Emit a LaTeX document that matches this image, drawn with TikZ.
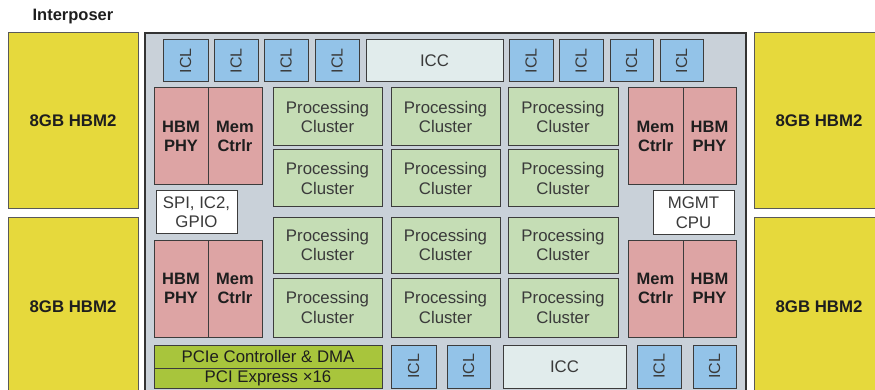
\documentclass[tikz,border=0pt]{standalone}
\usepackage{fontspec}
\setmainfont{Liberation Sans}
\definecolor{hbmY}{HTML}{E6D93C}
\definecolor{dieG}{HTML}{C9D1D9}
\definecolor{iclB}{HTML}{93C3E8}
\definecolor{iccW}{HTML}{E1ECEC}
\definecolor{memP}{HTML}{DDA4A4}
\definecolor{pcG}{HTML}{C5DDB5}
\definecolor{pcieG}{HTML}{A8C53C}
\definecolor{txtD}{HTML}{3A3A3A}
\definecolor{txtB}{HTML}{1E1E1E}
\definecolor{edgeD}{HTML}{3C3C3C}
\newcommand\blk[7]{\node[#1, minimum width={(#5-#3)*1pt}, minimum height={(#6-#4)*1pt}] (#2) at ({(#3+#5)/2},{-(#4+#6)/2}) {#7};}
\tikzset{
  base/.style={draw=edgeD, line width=1pt, inner sep=0pt, outer sep=0pt, align=center,
    font=\fontsize{16.8}{19.5}\selectfont, text=txtD},
  hbm/.style={base, fill=hbmY, draw=gray!70!black, font=\bfseries\fontsize{16.8}{19.5}\selectfont, text=txtB},
  die/.style={base, fill=dieG, draw=gray!40!black, line width=1.5pt},
  icl/.style={base, fill=iclB, font=\fontsize{16}{19}\selectfont},
  icc/.style={base, fill=iccW},
  mem/.style={base, fill=memP, font=\bfseries\fontsize{16.5}{19.5}\selectfont, text=txtB},
  cluster/.style={base, fill=pcG},
  io/.style={base, fill=white},
  pcie/.style={base, fill=pcieG, text=txtB},
}
\begin{document}
\begin{tikzpicture}[x=1pt,y=1pt]
\useasboundingbox (0,0) rectangle (875,-390);
\node[font=\bfseries\fontsize{16.5}{19}\selectfont, text=txtB, inner sep=0pt] (interposer) at (73,-17) {Interposer};
% HBM stacks
\blk{hbm}{hbmTL}{8}{33}{138}{209}{8GB HBM2}
\blk{hbm}{hbmBL}{8}{217}{138}{396}{8GB HBM2}
\blk{hbm}{hbmTR}{754}{33}{884}{209}{8GB HBM2}
\blk{hbm}{hbmBR}{754}{217}{884}{396}{8GB HBM2}
% die
\blk{die}{die}{145}{33}{746}{398}{}
% top row ICLs and ICC
\blk{icl}{iclA}{163}{40}{208}{82}{\rotatebox{90}{ICL}}
\blk{icl}{iclB}{214}{40}{258}{82}{\rotatebox{90}{ICL}}
\blk{icl}{iclC}{264}{40}{308}{82}{\rotatebox{90}{ICL}}
\blk{icl}{iclD}{315}{40}{359}{82}{\rotatebox{90}{ICL}}
\blk{icc}{iccT}{366}{40}{503}{82}{ICC}
\blk{icl}{iclE}{509}{40}{553}{82}{\rotatebox{90}{ICL}}
\blk{icl}{iclF}{559}{40}{603}{82}{\rotatebox{90}{ICL}}
\blk{icl}{iclG}{610}{40}{653}{82}{\rotatebox{90}{ICL}}
\blk{icl}{iclH}{660}{40}{703}{82}{\rotatebox{90}{ICL}}
% left memory blocks
\blk{mem}{phyTL}{154}{88}{208}{185}{HBM\\PHY}
\blk{mem}{memTL}{208}{88}{262}{185}{Mem\\Ctrlr}
\blk{io}{spi}{156}{191}{237}{233}{SPI, IC2,\\GPIO}
\blk{mem}{phyBL}{154}{240}{208}{337}{HBM\\PHY}
\blk{mem}{memBL}{208}{240}{262}{337}{Mem\\Ctrlr}
% right memory blocks
\blk{mem}{memTR}{628}{88}{683}{185}{Mem\\Ctrlr}
\blk{mem}{phyTR}{683}{88}{736}{185}{HBM\\PHY}
\blk{io}{mgmt}{653}{191}{734}{234}{MGMT\\CPU}
\blk{mem}{memBR}{628}{240}{683}{337}{Mem\\Ctrlr}
\blk{mem}{phyBR}{683}{240}{736}{337}{HBM\\PHY}
% processing clusters
\blk{cluster}{pc11}{273}{88}{382}{146}{Processing\\Cluster}
\blk{cluster}{pc12}{391}{88}{500}{146}{Processing\\Cluster}
\blk{cluster}{pc13}{508}{88}{618}{146}{Processing\\Cluster}
\blk{cluster}{pc21}{273}{150}{382}{207}{Processing\\Cluster}
\blk{cluster}{pc22}{391}{150}{500}{207}{Processing\\Cluster}
\blk{cluster}{pc23}{508}{150}{618}{207}{Processing\\Cluster}
\blk{cluster}{pc31}{273}{217}{382}{273}{Processing\\Cluster}
\blk{cluster}{pc32}{391}{217}{500}{273}{Processing\\Cluster}
\blk{cluster}{pc33}{508}{217}{618}{273}{Processing\\Cluster}
\blk{cluster}{pc41}{273}{278}{382}{337}{Processing\\Cluster}
\blk{cluster}{pc42}{391}{278}{500}{337}{Processing\\Cluster}
\blk{cluster}{pc43}{508}{278}{618}{337}{Processing\\Cluster}
% bottom row
\blk{pcie}{pcieCtl}{154}{345}{382}{368}{PCIe Controller \& DMA}
\blk{pcie}{pcieX}{154}{368}{382}{388}{PCI Express \texttimes16}
\blk{icl}{iclI}{391}{345}{436}{388}{\rotatebox{90}{ICL}}
\blk{icl}{iclJ}{447}{345}{490}{388}{\rotatebox{90}{ICL}}
\blk{icc}{iccB}{503}{345}{626}{388}{ICC}
\blk{icl}{iclK}{637}{345}{681}{388}{\rotatebox{90}{ICL}}
\blk{icl}{iclL}{693}{345}{736}{388}{\rotatebox{90}{ICL}}
\end{tikzpicture}
\end{document}
